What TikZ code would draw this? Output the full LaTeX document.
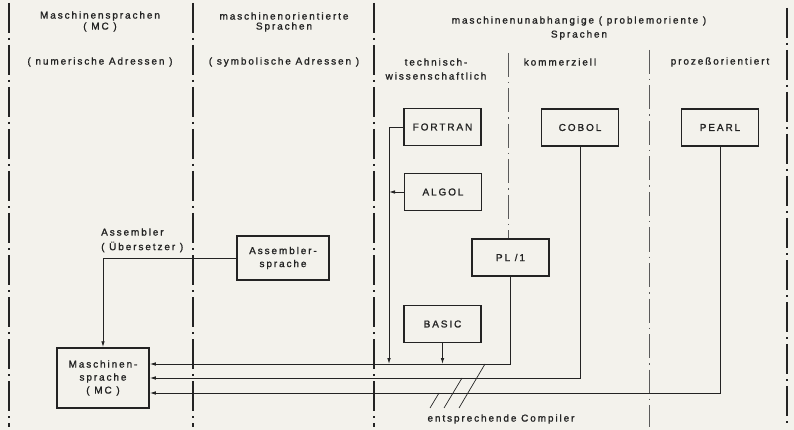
\documentclass[tikz,border=0pt]{standalone}
\usepackage{fontspec}
\setmainfont{Liberation Sans}[LetterSpace=19,FakeBold=1.3]
\usetikzlibrary{arrows.meta}
\definecolor{bg}{RGB}{243,242,236}
\definecolor{ink}{RGB}{35,35,35}
\begin{document}
\begin{tikzpicture}[x=1pt,y=-1pt,
  lbl/.style={font=\fontsize{10}{12}\selectfont, text=ink, inner sep=0pt},
  lang/.style={draw=ink, line width=1.5pt, fill=bg, font=\fontsize{10}{13}\selectfont,
    text=ink, align=center, inner sep=0pt, minimum width=77pt, minimum height=37pt},
  maindiv/.style={draw=ink, line width=1.5pt, dash pattern=on 30pt off 5pt on 2pt off 5pt},
  subdiv/.style={draw=ink!75, line width=0.9pt, dash pattern=on 24pt off 5pt on 1.5pt off 5pt},
  conn/.style={draw=ink, line width=0.9pt},
  arr/.style={conn, -{Latex[length=6pt,width=3.6pt]}}]
% background / bounding box
\fill[bg] (0,0) rectangle (794,430);
\useasboundingbox (0,0) rectangle (794,430);

% column dividers
\draw[maindiv] (9,3) -- (9,427);
\draw[maindiv] (193,3) -- (193,427);
\draw[maindiv] (374,3) -- (374,427);
\draw[maindiv] (787,8) -- (787,427);
\draw[subdiv] (508,53) -- (508,239);
\draw[subdiv] (649,50) -- (649,427);

% header texts
\node[lbl] (h1a) at (100,16) {Maschinensprachen};
\node[lbl] (h1b) at (100,27) {( MC )};
\node[lbl] (h1c) at (100,62) {( numerische Adressen )};
\node[lbl] (h2a) at (284,16) {maschinenorientierte};
\node[lbl] (h2b) at (284,27) {Sprachen};
\node[lbl] (h2c) at (284,62) {( symbolische Adressen )};
\node[lbl] (h3a) at (579,21) {maschinenunabhangige ( problemoriente )};
\node[lbl] (h3b) at (579,35) {Sprachen};
\node[lbl] (h4a) at (436,62) {technisch-};
\node[lbl] (h4b) at (436,76) {wissenschaftlich};
\node[lbl] (h5) at (560,62) {kommerziell};
\node[lbl] (h6) at (720,62) {prozeßorientiert};

% language boxes
\node[lang] (FORTRAN) at (442.5,127) {FORTRAN};
\node[lang] (ALGOL) at (443,192) {ALGOL};
\node[lang] (COBOL) at (580,127.5) {COBOL};
\node[lang] (PEARL) at (720,127.5) {PEARL};
\node[lang] (PL1) at (510.5,257.5) {PL /1};
\node[lang] (BASIC) at (442.5,324) {BASIC};
\node[lang, minimum width=92pt, minimum height=44pt] (ASM) at (283,258) {Assembler-\\sprache};
\node[lang, minimum width=92pt, minimum height=60pt] (MS) at (103,378) {Maschinen-\\sprache\\( MC )};

% junction coordinates
\path (MS.east) ++(0,-14) coordinate (e1);
\path (MS.east) coordinate (e2);
\path (MS.east) ++(0,15) coordinate (e3);
\coordinate (fj) at (389,364);

% connectors
\draw[arr] (PL1.south) |- (e1);
\draw[arr] (COBOL.south) |- (e2);
\draw[arr] (PEARL.south) |- (e3);
\draw[arr] (FORTRAN.west) -| (fj);
\draw[arr] (ALGOL.west) -- (ALGOL.west -| fj);
\draw[arr] (BASIC.south) -- (BASIC.south |- fj);
\draw[arr] (ASM.west) -| (MS.north);

% Assembler label
\node[lbl, anchor=west] (asmA) at (101,232) {Assembler};
\node[lbl, anchor=west] (asmB) at (101,247) {( Übersetzer )};

% compiler marks
\node[lbl] (comp) at (501,419) {entsprechende Compiler};
\coordinate (s1a) at (430,408); \coordinate (s1b) at (439,393);
\coordinate (s2a) at (444,408); \coordinate (s2b) at (462,378);
\coordinate (s3a) at (459,408); \coordinate (s3b) at (485,364);
\draw[conn, line width=0.7pt] (s1a) -- (s1b);
\draw[conn, line width=0.7pt] (s2a) -- (s2b);
\draw[conn, line width=0.7pt] (s3a) -- (s3b);
\end{tikzpicture}
\end{document}
